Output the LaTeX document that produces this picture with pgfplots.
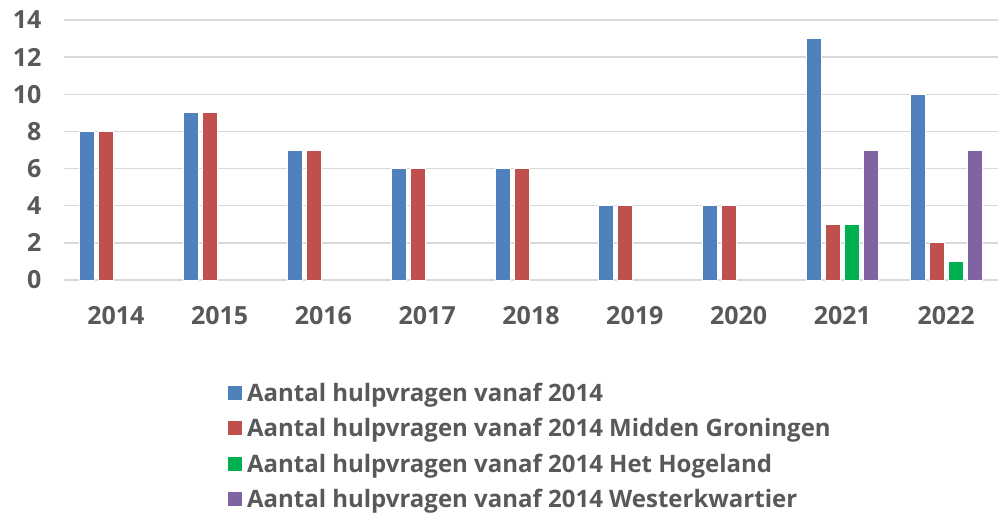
\documentclass[border=0pt]{standalone}
\usepackage{fontspec}
\setmainfont{Open Sans}[BoldFont={* Bold}]
\usepackage{pgfplots}
\pgfplotsset{compat=1.18}
\definecolor{tgray}{HTML}{595959}
\definecolor{ggray}{HTML}{D9D9D9}
\definecolor{cblue}{HTML}{4F81BD}
\definecolor{cred}{HTML}{C0504D}
\definecolor{cgreen}{HTML}{00B050}
\definecolor{cpurple}{HTML}{8064A2}
\begin{document}
\begin{tikzpicture}
\useasboundingbox (-64pt,-235pt) rectangle (934pt,280pt);
\begin{axis}[
  scale only axis,
  width=934pt, height=260pt,
  ymin=0, ymax=14, ytick={0,2,...,14},
  xmin=-0.5, xmax=8.5,
  xtick={0,...,8},
  xticklabels={2014,2015,2016,2017,2018,2019,2020,2021,2022},
  ybar=4pt, bar width=15pt,
  axis line style={draw=none},
  major tick length=0pt,
  ymajorgrids, grid style={ggray, line width=1.5pt},
  /pgf/number format/assume math mode=true,
  tick label style={font=\fontsize{25}{29}\selectfont\bfseries, text=tgray},
  xticklabel style={yshift=-23pt},
  yticklabel style={xshift=-19pt},
  legend style={draw=none, at={(0.5,0)}, anchor=north, yshift=-102pt,
    font=\fontsize{24}{28}\selectfont\bfseries, text=tgray,
    row sep=13.5pt, legend cell align=left,
    nodes={inner xsep=4pt, inner ysep=0pt, text height=17pt, text depth=5pt}},
  legend image code/.code={\fill[#1] (0pt,-5pt) rectangle (15pt,10pt);},
  every axis plot/.append style={draw=white, line width=0.8pt},
]
\addplot[fill=cblue] coordinates {(0,8)(1,9)(2,7)(3,6)(4,6)(5,4)(6,4)(7,13)(8,10)};
\addplot[fill=cred] coordinates {(0,8)(1,9)(2,7)(3,6)(4,6)(5,4)(6,4)(7,3)(8,2)};
\addplot[fill=cgreen] coordinates {(7,3)(8,1)};
\addplot[fill=cpurple] coordinates {(7,7)(8,7)};
\legend{Aantal hulpvragen vanaf 2014,Aantal hulpvragen vanaf 2014 Midden Groningen,Aantal hulpvragen vanaf 2014 Het Hogeland,Aantal hulpvragen vanaf 2014 Westerkwartier}
\end{axis}
\end{tikzpicture}
\end{document}
